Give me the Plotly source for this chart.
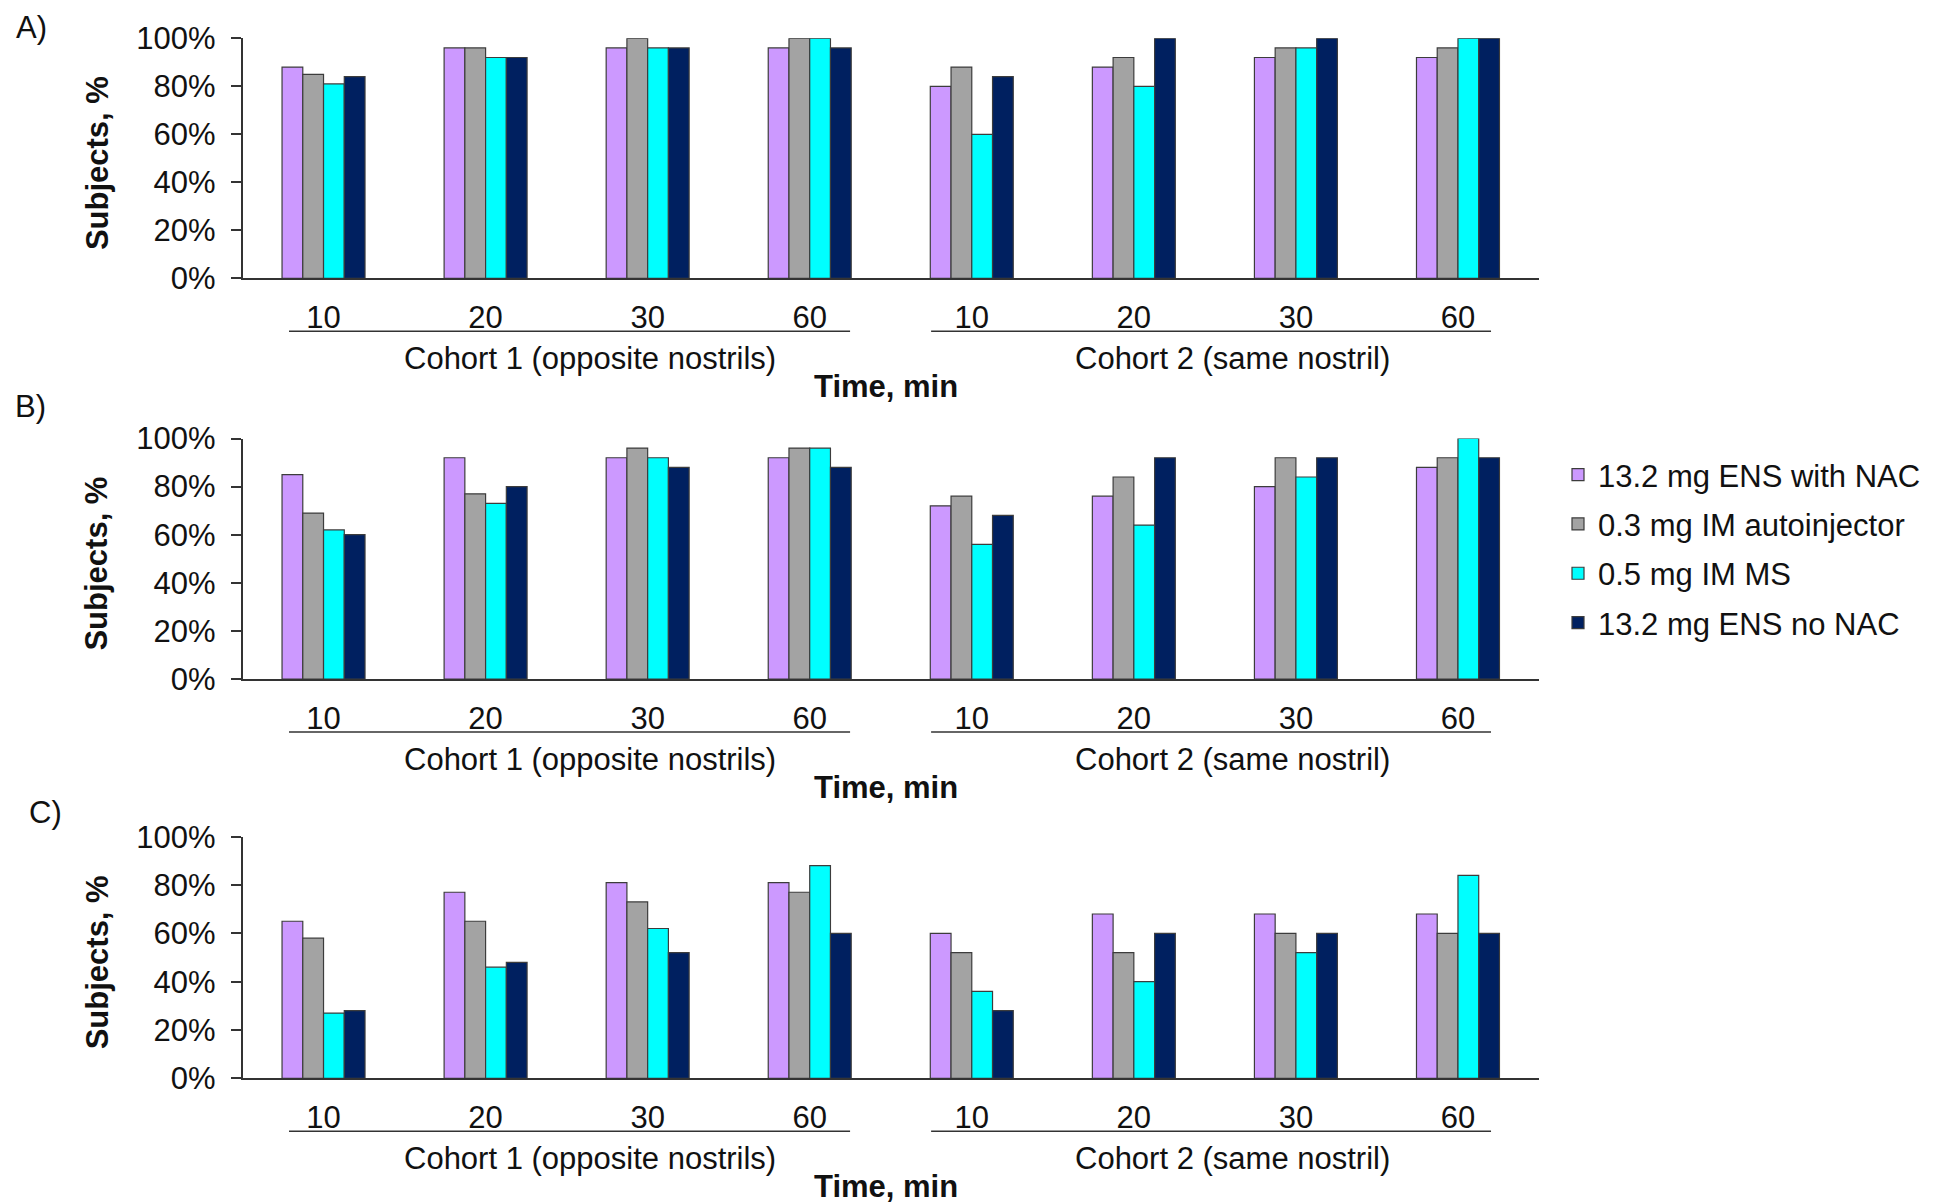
import plotly.graph_objects as go

# ---- data ----
categories = ["C1-10", "C1-20", "C1-30", "C1-60", "C2-10", "C2-20", "C2-30", "C2-60"]
tick_labels = ["10", "20", "30", "60", "10", "20", "30", "60"]
series_names = ["13.2 mg ENS with NAC", "0.3 mg IM autoinjector", "0.5 mg IM MS", "13.2 mg ENS no NAC"]
panel_labels = ["A)", "B)", "C)"]
cohort_labels = ["Cohort 1 (opposite nostrils)", "Cohort 2 (same nostril)"]

# Panel A
a_ens_nac = [88, 96, 96, 96, 80, 88, 92, 92]
a_im_auto = [85, 96, 100, 100, 88, 92, 96, 96]
a_im_ms = [81, 92, 96, 100, 60, 80, 96, 100]
a_ens_nonac = [84, 92, 96, 96, 84, 100, 100, 100]
# Panel B
b_ens_nac = [85, 92, 92, 92, 72, 76, 80, 88]
b_im_auto = [69, 77, 96, 96, 76, 84, 92, 92]
b_im_ms = [62, 73, 92, 96, 56, 64, 84, 100]
b_ens_nonac = [60, 80, 88, 88, 68, 92, 92, 92]
# Panel C
c_ens_nac = [65, 77, 81, 81, 60, 68, 68, 68]
c_im_auto = [58, 65, 73, 77, 52, 52, 60, 60]
c_im_ms = [27, 46, 62, 88, 36, 40, 52, 84]
c_ens_nonac = [28, 48, 52, 60, 28, 60, 60, 60]

panels = [
    [a_ens_nac, a_im_auto, a_im_ms, a_ens_nonac],
    [b_ens_nac, b_im_auto, b_im_ms, b_ens_nonac],
    [c_ens_nac, c_im_auto, c_im_ms, c_ens_nonac],
]

colors = ["#CC99FF", "#A3A3A3", "#00FFFF", "#002060"]
outline = "#3C3C3C"

# the page body has an 8px margin: work in screen pixels, shift by OFF
OFF = 8
W, H = 1947 - OFF, 1204 - OFF
FONT = "Liberation Sans, Arial, sans-serif"
FS = 31


def px_x(v):
    return (v - OFF) / W


def px_y(v):
    return 1 - (v - OFF) / H


# screen-pixel geometry (top, bottom) of each plot area
plot_px = [(38.3, 278.3), (438.5, 679.0), (836.7, 1078.3)]
x_px = (242.5, 1539.0)

fig = go.Figure()
layout = dict(
    template="none",
    width=W, height=H,
    margin=dict(l=0, r=0, t=0, b=0, autoexpand=False),
    paper_bgcolor="white", plot_bgcolor="white",
    barmode="group", bargap=0.488, bargroupgap=0,
    font=dict(family=FONT, size=FS, color="#111111"),
    showlegend=True,
    legend=dict(
        x=px_x(1558), xanchor="left", y=px_y(448), yanchor="top",
        font=dict(family=FONT, size=FS, color="#111111"),
        tracegroupgap=6, bgcolor="rgba(0,0,0,0)", traceorder="grouped",
        borderwidth=0,
    ),
)

annotations = []
shapes = []
for p, (series, (top, bot)) in enumerate(zip(panels, plot_px)):
    xa = "x" if p == 0 else f"x{p+1}"
    ya = "y" if p == 0 else f"y{p+1}"
    for s, vals in enumerate(series):
        fig.add_trace(go.Bar(
            x=categories, y=vals, name=series_names[s],
            marker=dict(color=colors[s], line=dict(color=outline, width=1.2)),
            xaxis=xa, yaxis=ya, legendgroup=series_names[s],
            showlegend=(p == 0),
        ))
    ph = bot - top
    layout["xaxis" if p == 0 else f"xaxis{p+1}"] = dict(
        domain=[px_x(x_px[0]), px_x(x_px[1])], anchor=ya, automargin=False,
        type="category", categoryorder="array", categoryarray=categories,
        tickvals=categories, ticktext=tick_labels,
        showline=True, linecolor="#333333", linewidth=1.5,
        ticks="", showgrid=False, zeroline=False,
        tickfont=dict(family=FONT, size=FS, color="#111111"),
        ticklabelstandoff=11, fixedrange=True,
    )
    layout["yaxis" if p == 0 else f"yaxis{p+1}"] = dict(
        domain=[px_y(bot), px_y(top)], anchor=xa, automargin=False,
        range=[0, 100], tickvals=[0, 20, 40, 60, 80, 100],
        ticktext=["0%", "20%", "40%", "60%", "80%", "100%"],
        showline=True, linecolor="#333333", linewidth=1.5,
        ticks="outside", ticklen=10, tickcolor="#333333", tickwidth=1.5,
        showgrid=False, zeroline=False,
        tickfont=dict(family=FONT, size=FS, color="#111111"),
        ticklabelstandoff=9, fixedrange=True,
    )
    xref = xa
    yref = f"{ya} domain"
    # cohort underlines
    for x0, x1 in [(-0.213, 3.249), (3.749, 7.204)]:
        shapes.append(dict(type="line", xref=xref, yref=yref, x0=x0, x1=x1,
                           y0=-53 / ph, y1=-53 / ph,
                           line=dict(color="#333333", width=1.5)))
    # cohort labels
    for xc, txt in [(1.644, cohort_labels[0]), (5.606, cohort_labels[1])]:
        annotations.append(dict(xref=xref, yref=yref, x=xc, y=-80 / ph,
                                text=txt, showarrow=False, xanchor="center", yanchor="middle",
                                font=dict(family=FONT, size=FS, color="#111111")))
    # x title
    annotations.append(dict(xref=xref, yref=yref, x=3.47, y=-108 / ph,
                            text="<b>Time, min</b>", showarrow=False,
                            xanchor="center", yanchor="middle",
                            font=dict(family=FONT, size=FS, color="#111111")))
    # y title
    annotations.append(dict(xref="paper", yref=yref, x=px_x(97), y=0.48,
                            text="<b>Subjects, %</b>", showarrow=False, textangle=-90,
                            xanchor="center", yanchor="middle",
                            font=dict(family=FONT, size=FS, color="#111111")))

# panel labels (A sits at the very top edge, so anchor it by its top)
label_pos = [(31, 8, "top"), (30, 407, "middle"), (45, 812, "middle")]
for (lx, ly, anc), txt in zip(label_pos, panel_labels):
    annotations.append(dict(xref="paper", yref="paper", x=px_x(lx), y=px_y(max(ly, OFF)),
                            text=txt, showarrow=False, xanchor="center", yanchor=anc,
                            font=dict(family=FONT, size=FS, color="#111111")))

layout["annotations"] = annotations
layout["shapes"] = shapes
fig.update_layout(**layout)
fig.write_html("out.html")
